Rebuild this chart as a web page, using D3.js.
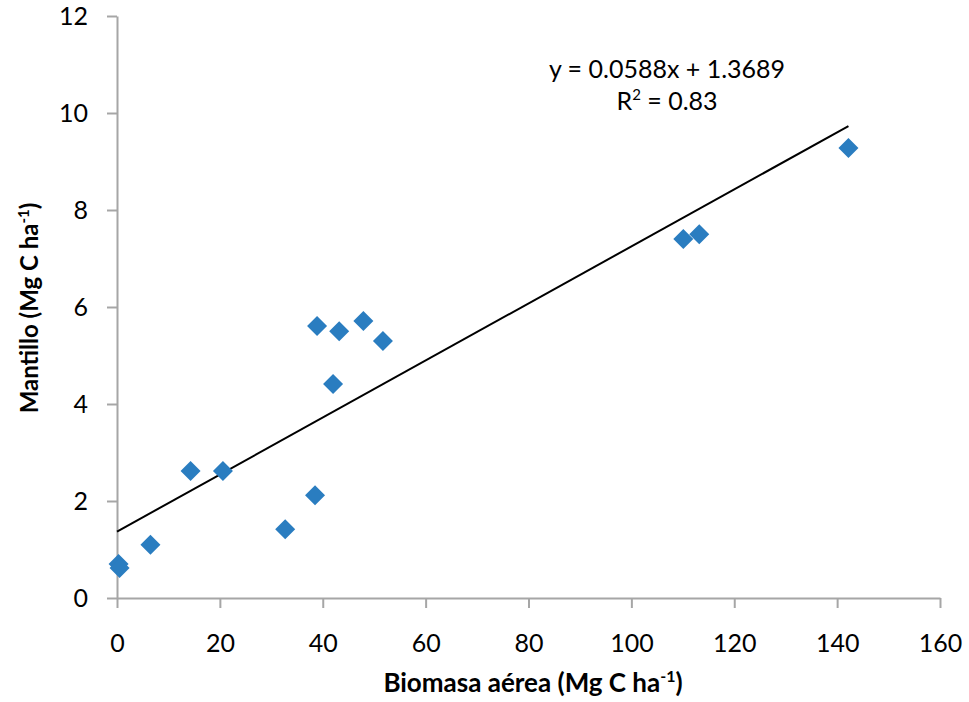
<!DOCTYPE html>
<html>
<head>
<meta charset="utf-8">
<script src="https://cdn.jsdelivr.net/npm/d3@7"></script>
<style>
  body { margin: 0; background: #ffffff; }
  text { font-family: Lato, "Open Sans", sans-serif; }
</style>
</head>
<body>
<div id="chart"></div>
<script>
// data
const biomasa = [0.3, 0.5, 6.5, 14.3, 20.6, 32.7, 38.5, 38.9, 42.0, 43.2, 47.9, 51.7, 110.1, 113.2, 142.2];
const mantillo = [0.7, 0.62, 1.1, 2.62, 2.62, 1.42, 2.12, 5.61, 4.41, 5.5, 5.71, 5.3, 7.4, 7.5, 9.28];
const slope = 0.0588;
const intercept = 1.3689;
const r2 = 0.83;
const xTicks = [0, 20, 40, 60, 80, 100, 120, 140, 160];
const yTicks = [0, 2, 4, 6, 8, 10, 12];

const width = 969, height = 702;
const margin = { top: 16, right: 29, bottom: 104, left: 117 };

const svg = d3.select('#chart')
    .append('svg')
    .attr('width', width)
    .attr('height', height);

const x = d3.scaleLinear().domain([0, 160]).range([margin.left, width - margin.right]);
const y = d3.scaleLinear().domain([0, 12]).range([height - margin.bottom, margin.top]);

// x axis
const xAxis = svg.append('g')
    .attr('transform', `translate(0,${y(0)})`)
    .call(d3.axisBottom(x).tickValues(xTicks).tickSize(10).tickPadding(26).tickSizeOuter(0));

// y axis
const yAxis = svg.append('g')
    .attr('transform', `translate(${x(0)},0)`)
    .call(d3.axisLeft(y).tickValues(yTicks).tickSize(10).tickPadding(19).tickSizeOuter(0));

[xAxis, yAxis].forEach(g => {
    g.selectAll('path, line').attr('stroke', '#a6a6a6').attr('stroke-width', 2);
    g.selectAll('text').attr('fill', '#000').style('font-size', '25px');
});

// trend line
const xMax = d3.max(biomasa);
svg.append('line')
    .attr('x1', x(0)).attr('y1', y(intercept))
    .attr('x2', x(xMax)).attr('y2', y(slope * xMax + intercept))
    .attr('stroke', '#000')
    .attr('stroke-width', 2);

// points
const pts = biomasa.map((v, i) => ({ x: v, y: mantillo[i] }));
svg.selectAll('.pt')
    .data(pts)
    .enter()
    .append('path')
    .attr('class', 'pt')
    .attr('d', d3.symbol().type(d3.symbolSquare).size(200))
    .attr('transform', d => `translate(${x(d.x)},${y(d.y)}) rotate(45)`)
    .attr('fill', '#2a7dc0');

// equation
const eq = svg.append('g').attr('text-anchor', 'middle').style('font-size', '25px');
eq.append('text')
    .attr('x', 667).attr('y', 78)
    .text(`y = ${slope}x + ${intercept}`);
const r2t = eq.append('text').attr('x', 667).attr('y', 110);
r2t.append('tspan').text('R');
r2t.append('tspan').attr('dy', -10).style('font-size', '15px').text('2');
r2t.append('tspan').attr('dy', 10).text(` = ${r2}`);

// axis titles
const xt = svg.append('text')
    .attr('x', 533)
    .attr('y', 692)
    .attr('text-anchor', 'middle')
    .style('font-size', '26px')
    .style('font-weight', 'bold');
xt.append('tspan').text('Biomasa aérea (Mg C ha');
xt.append('tspan').attr('dy', -10).style('font-size', '16px').text('-1');
xt.append('tspan').attr('dy', 10).text(')');

const yt = svg.append('text')
    .attr('transform', `translate(38,308) rotate(-90)`)
    .attr('text-anchor', 'middle')
    .style('font-size', '24px')
    .style('font-weight', 'bold');
yt.append('tspan').text('Mantillo (Mg C ha');
yt.append('tspan').attr('dy', -9).style('font-size', '15px').text('-1');
yt.append('tspan').attr('dy', 9).text(')');
</script>
</body>
</html>
